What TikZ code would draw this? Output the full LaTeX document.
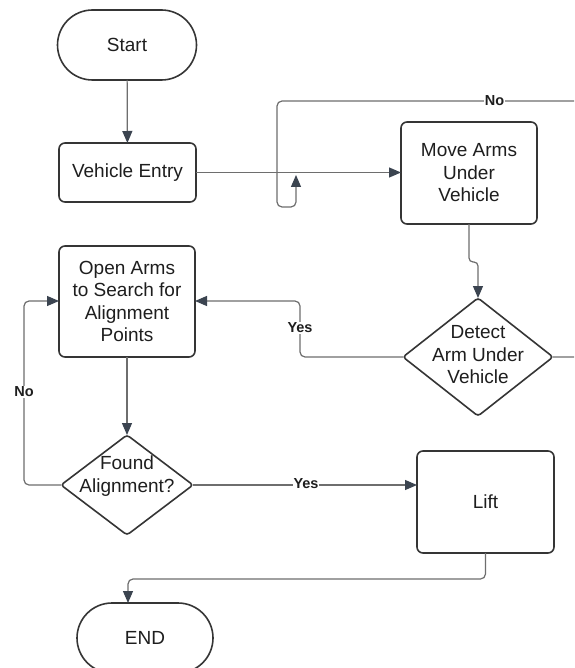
\documentclass[tikz,border=0pt]{standalone}
\usepackage{fontspec}
\setmainfont{Liberation Sans}
\usetikzlibrary{shapes.geometric,arrows.meta}
\definecolor{bord}{HTML}{353535}
\definecolor{conn}{HTML}{6E6E6E}
\definecolor{tipc}{HTML}{3B4450}
\definecolor{txt}{HTML}{1E1E1E}
\begin{document}
\begin{tikzpicture}[x=1pt,y=-1pt,
  base/.style={draw=bord, line width=1.6pt, text=txt, font=\fontsize{19}{22.5}\selectfont, align=center, inner sep=0pt, outer sep=0pt},
  stadium/.style={base, rectangle, rounded corners=35pt},
  procbox/.style={base, rectangle, rounded corners=6pt},
  dia/.style={base, diamond, rounded corners=3pt},
  dtext/.style={text=txt, font=\fontsize{19}{22.5}\selectfont, align=center, inner sep=0pt},
  lbl/.style={font=\bfseries\fontsize{14.5}{16}\selectfont, text=txt, fill=white, inner sep=0.6pt},
  conn/.style={draw=conn, line width=1.2pt, rounded corners=5pt},
  arr/.style={conn, -{Triangle[length=12pt,width=10pt,fill=tipc,color=tipc]}}
]
\useasboundingbox (0,0) rectangle (574,668);
\clip (0,0) rectangle (574,668);
\fill[white] (0,0) rectangle (574,668);

% nodes
\node[stadium, minimum width=139pt, minimum height=70pt] (start) at (127,45) {Start};
\node[procbox, minimum width=137pt, minimum height=59pt] (entry) at (127.5,172.5) {Vehicle Entry};
\node[procbox, minimum width=136pt, minimum height=102pt] (move) at (469,173) {Move Arms\\Under\\Vehicle};
\node[dia, minimum width=150pt, minimum height=118pt] (detect) at (478,357) {};
\node[dtext] (detecttxt) at (478,355) {Detect\\Arm Under\\Vehicle};
\node[procbox, minimum width=136pt, minimum height=111pt] (open) at (127,301.5) {Open Arms\\to Search for\\Alignment\\Points};
\node[dia, minimum width=132pt, minimum height=100pt] (found) at (127,485) {};
\node[dtext] (foundtxt) at (127,476) {Found\\Alignment?};
\node[procbox, minimum width=137pt, minimum height=102pt] (lift) at (485.5,502) {Lift};
\node[stadium, minimum width=136pt, minimum height=70pt] (end) at (145,638) {END};

% connectors
\draw[arr] (start) -- (entry);
\draw[arr] (entry.east) -- (entry.east -| move.west);
\coordinate (loopend) at (296,175);
\draw[arr] (detect.east) -- (600,357) -- (600,101) -- (277,101) -- (277,207) -- (296,207) -- (loopend);
\node[lbl] (nolbl1) at (494.5,101) {No};
\coordinate (jog) at (469,262);
\draw[arr, rounded corners=4pt] (move.south) |- (jog -| detect.north) -- (detect.north);
\draw[arr] (detect.west) -- (300,357) -- (300,301) -- (open.east |- 0,301);
\node[lbl] (yeslbl1) at (300,328) {Yes};
\draw[arr] (open.south) -- (found.north);
\draw[arr] (found.west) -- (24,485) -- (24,301) -- (open.west |- 0,301);
\node[lbl] (nolbl2) at (24,392) {No};
\draw[arr] (found.east) -- (found.east -| lift.west);
\node[lbl] (yeslbl2) at (306,484) {Yes};
\draw[arr] (lift.south) -- (485.5,579) -- (128,579) -- ([xshift=-17pt]end.north);
\end{tikzpicture}
\end{document}
